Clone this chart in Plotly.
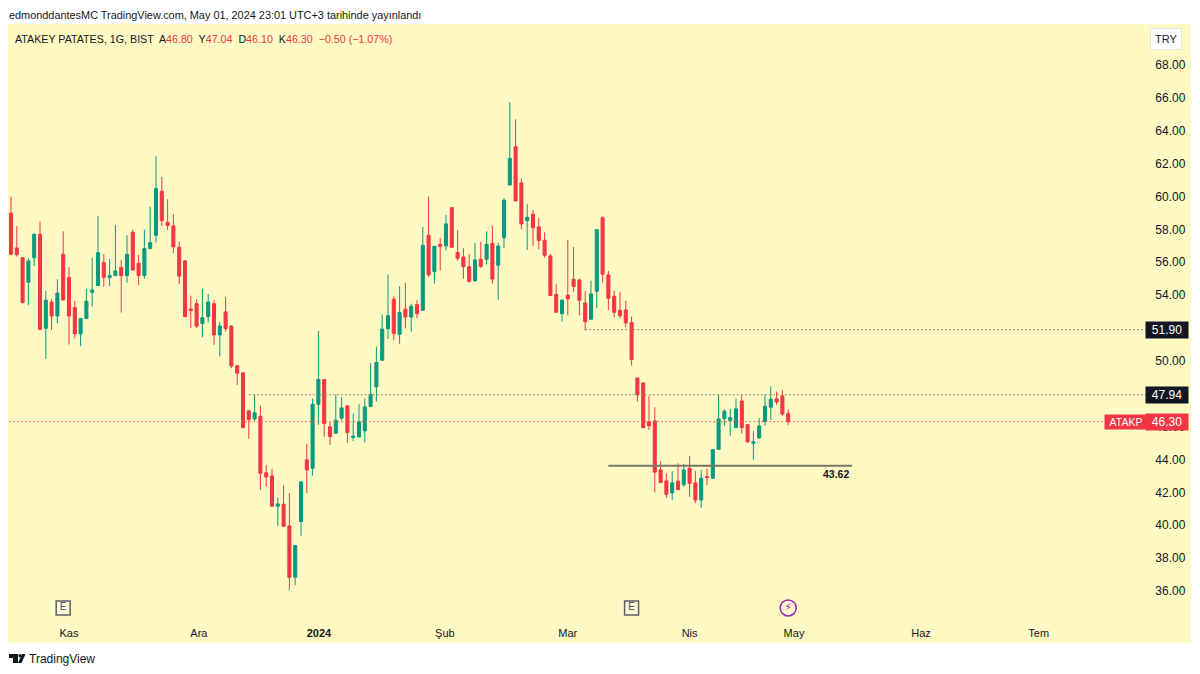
import plotly.graph_objects as go

# ATAKP gunluk mumlar
opens = [58.98, 56.87, 56.28, 54.78, 56.28, 57.70, 51.98, 53.58, 52.73, 56.48, 55.08, 53.24, 51.64, 52.57, 54.17,
         54.58, 55.98, 55.06, 55.19, 55.69, 55.19, 57.82, 55.94, 55.19, 56.83, 57.64, 60.32, 58.43, 58.21, 56.91,
         56.08, 53.16, 53.48, 52.27, 52.69, 53.48, 51.58, 52.98, 52.12, 49.70, 49.27, 46.96, 46.47, 46.63, 43.19,
         43.00, 41.16, 41.28, 39.96, 36.84, 40.23, 43.98, 43.47, 47.36, 48.86, 45.99, 45.60, 46.51, 47.26, 45.34,
         45.38, 45.74, 47.22, 48.42, 50.04, 51.96, 53.75, 51.62, 53.14, 52.67, 53.42, 53.08, 57.64, 55.43, 57.09,
         56.99, 59.32, 56.59, 56.32, 55.73, 54.86, 56.18, 56.18, 57.15, 55.81, 57.48, 60.70, 63.03, 60.82, 58.53,
         58.92, 58.15, 57.34, 56.38, 54.03, 52.87, 54.00, 54.96, 54.92, 53.52, 52.53, 54.23, 58.71, 55.23, 53.93,
         53.08, 53.10, 52.33, 48.96, 48.66, 46.29, 46.35, 43.37, 42.70, 41.97, 42.68, 42.46, 43.47, 42.58, 41.54,
         42.96, 42.86, 44.62, 46.49, 46.37, 45.94, 47.56, 46.13, 44.99, 45.31, 46.31, 47.18, 47.69, 47.87, 46.80]
highs = [59.99, 58.21, 56.28, 56.24, 57.76, 58.49, 54.27, 53.75, 54.96, 57.88, 55.69, 53.65, 52.63, 54.38, 56.26,
         58.82, 56.48, 56.20, 58.27, 56.14, 57.64, 57.98, 56.44, 57.98, 59.38, 62.45, 61.19, 59.83, 58.92, 57.25,
         56.14, 53.97, 53.75, 54.38, 54.07, 53.69, 52.37, 53.87, 52.17, 49.73, 49.30, 47.00, 47.95, 47.28, 43.67,
         43.45, 41.69, 42.44, 41.95, 38.78, 42.66, 44.95, 47.71, 51.82, 48.88, 46.27, 47.95, 47.79, 47.32, 46.80,
         47.36, 47.71, 49.86, 50.87, 52.82, 55.25, 53.93, 54.54, 54.74, 53.48, 53.69, 58.15, 59.99, 56.99, 57.48,
         58.88, 59.32, 57.94, 56.85, 56.50, 57.19, 57.25, 57.88, 58.21, 57.19, 59.89, 65.73, 64.70, 61.09, 59.53,
         59.18, 58.69, 57.82, 56.50, 54.66, 53.75, 57.34, 56.93, 55.00, 54.25, 54.88, 57.98, 58.78, 55.47, 54.27,
         54.19, 53.65, 52.69, 48.96, 48.66, 47.87, 47.18, 43.91, 43.16, 43.29, 43.77, 43.73, 44.22, 43.29, 43.37,
         43.45, 44.60, 47.95, 47.06, 47.06, 47.69, 47.93, 46.13, 45.74, 46.51, 47.95, 48.46, 48.13, 48.23, 47.04]
lows = [56.44, 56.34, 53.50, 53.40, 55.77, 51.90, 50.12, 51.88, 52.29, 53.67, 50.99, 51.37, 50.89, 52.55, 53.30,
        54.56, 54.50, 54.54, 55.15, 52.94, 54.76, 55.50, 54.60, 55.00, 56.80, 57.19, 58.21, 57.96, 56.54, 54.66,
        52.65, 52.00, 52.00, 51.44, 52.33, 50.97, 50.26, 51.78, 49.55, 48.54, 45.90, 45.26, 46.35, 42.15, 42.36,
        41.12, 39.96, 39.90, 36.07, 36.35, 39.37, 41.95, 43.02, 46.11, 45.38, 44.89, 45.58, 46.37, 45.01, 45.11,
        45.36, 45.03, 47.20, 47.53, 50.00, 51.33, 51.25, 51.03, 51.98, 51.78, 52.59, 53.05, 55.11, 54.70, 55.49,
        56.71, 56.88, 56.08, 55.00, 54.76, 54.84, 55.65, 55.86, 54.70, 53.71, 56.85, 60.68, 59.70, 58.00, 56.75,
        56.99, 56.79, 56.28, 53.95, 52.93, 52.39, 52.77, 54.21, 52.77, 51.84, 52.50, 53.20, 54.76, 53.10, 52.65,
        52.59, 52.04, 49.71, 47.52, 45.90, 45.80, 41.99, 42.56, 41.68, 41.54, 42.15, 42.35, 41.73, 41.34, 41.06,
        42.43, 42.83, 44.60, 46.04, 45.42, 45.90, 45.58, 45.03, 43.99, 45.25, 46.06, 46.41, 47.32, 46.65, 46.10]
closes = [56.48, 56.46, 53.54, 56.08, 57.70, 51.92, 53.69, 52.73, 54.13, 53.71, 52.73, 51.64, 52.57, 53.63, 54.31,
          56.58, 55.08, 55.19, 55.47, 55.19, 56.48, 55.53, 55.19, 56.83, 57.19, 60.48, 58.53, 58.23, 56.93, 55.15,
          52.69, 53.06, 52.12, 52.63, 53.58, 51.58, 52.12, 51.96, 49.69, 49.25, 45.94, 46.43, 46.84, 43.17, 42.94,
          41.16, 41.30, 39.94, 36.84, 38.77, 42.64, 43.37, 47.36, 48.88, 46.19, 45.40, 46.39, 47.14, 45.64, 45.42,
          46.29, 47.20, 47.97, 49.90, 51.93, 52.75, 51.66, 52.94, 52.67, 53.32, 52.87, 57.03, 55.23, 56.97, 56.97,
          58.33, 56.91, 56.24, 55.73, 54.84, 56.14, 55.75, 57.09, 54.98, 56.99, 59.77, 62.32, 59.73, 58.33, 58.73,
          58.09, 57.32, 56.42, 53.97, 52.96, 53.69, 53.77, 54.52, 53.69, 52.39, 54.07, 57.98, 55.27, 53.81, 52.96,
          52.75, 52.31, 50.08, 47.93, 45.94, 46.06, 43.23, 42.60, 41.89, 42.58, 42.17, 43.37, 42.54, 41.54, 42.86,
          42.90, 44.60, 46.47, 46.94, 46.55, 47.08, 45.94, 45.07, 45.07, 46.04, 47.24, 47.67, 47.50, 46.77, 46.30]
candle_idx = list(range(len(closes)))

# 48 ve 52 etiketleri fiyat kutularinin altinda kaliyor
price_ticks = [36, 38, 40, 42, 44, 46, 50, 54, 56, 58, 60, 62, 64, 66, 68]
month_idx = [10, 32.4, 53.1, 74.8, 96, 117, 135, 156.9, 177.2]
month_labels = ['Kas', 'Ara', '<b>2024</b>', 'Şub', 'Mar', 'Nis', 'May', 'Haz', 'Tem']

earn_idx = [9, 107]
earn_price = [34.97, 34.97]
div_idx = [134]
div_price = [34.97]

level_hi = 51.90
level_mid = 47.94
level_last = 46.30
level_low = 43.62

RED = '#F23645'
GREEN = '#089981'
BG = '#FFF9C4'
INK = '#131722'
FONT = 'Liberation Sans, Arial, sans-serif'

# piksel -> paper, panel 8..1191 / 24..643
def px(x):
    return (x - 8) / 1183

def py(y):
    return (643 - y) / 619

fig = go.Figure()

# seviye cizgileri mumlarin altinda kalsin
fig.add_trace(go.Scatter(x=[99, 196], y=[level_hi, level_hi], mode='lines',
                         line=dict(color='#8a8a72', width=1, dash='2px,2px')))
fig.add_trace(go.Scatter(x=[41, 196], y=[level_mid, level_mid], mode='lines',
                         line=dict(color='#8a8a72', width=1, dash='2px,2px')))
fig.add_trace(go.Scatter(x=[-1, 189], y=[level_last, level_last], mode='lines',
                         line=dict(color='#F4636F', width=1, dash='2px,2px')))
fig.add_trace(go.Scatter(x=[103, 145], y=[level_low, level_low], mode='lines',
                         line=dict(color='#77776a', width=2)))

fig.add_trace(go.Candlestick(x=candle_idx, open=opens, high=highs, low=lows, close=closes,
                             increasing=dict(line=dict(color=GREEN, width=1), fillcolor=GREEN),
                             decreasing=dict(line=dict(color=RED, width=1), fillcolor=RED),
                             whiskerwidth=0))

fig.add_trace(go.Scatter(x=earn_idx, y=earn_price, mode='markers+text', text=['E', 'E'],
                         textposition='middle center', textfont=dict(size=10, color='#4a4f63', family=FONT),
                         marker=dict(symbol='square', size=14, color='rgba(255,255,255,0.25)',
                                     line=dict(color='#5d606b', width=1.5))))
fig.add_trace(go.Scatter(x=div_idx, y=div_price, mode='markers+text', text=['⚡'],
                         textposition='middle center',
                         textfont=dict(size=11, color='#9C27B0', family='DejaVu Sans'),
                         marker=dict(symbol='circle', size=16, color='rgba(255,255,255,0.25)',
                                     line=dict(color='#9C27B0', width=1.5))))

header = ('ATAKEY PATATES, 1G, BIST  A<span style="color:{0}">46.80</span>  Y<span style="color:{0}">47.04</span>'
          '  D<span style="color:{0}">46.10</span>  K<span style="color:{0}">46.30</span>'
          '  <span style="color:{0}">−0.50 (−1.07%)</span>').format(RED)

annots = [
    dict(x=px(7), y=py(15), text='edmonddantesMC TradingView.com, May 01, 2024 23:01 UTC+3 tarihinde yayınlandı',
         xanchor='left', font=dict(size=10.9, color=INK)),
    dict(x=px(13), y=py(39), text=header, xanchor='left', font=dict(size=10.7, color=INK)),
    dict(x=px(1166), y=py(39), text='TRY', font=dict(size=11, color=INK), bgcolor='white',
         bordercolor='#e6e6e0', borderwidth=1, borderpad=4),
    dict(x=px(1166.5), y=py(330), text=f'{level_hi:.2f}', font=dict(size=12, color='white'), bgcolor=INK,
         borderpad=1, width=40),
    dict(x=px(1166.5), y=py(395), text=f'{level_mid:.2f}', font=dict(size=12, color='white'), bgcolor=INK,
         borderpad=1, width=40),
    dict(x=px(1125.5), y=py(422), text='ATAKP', font=dict(size=10.5, color='white'), bgcolor=RED,
         borderpad=1, width=40),
    dict(x=px(1166.5), y=py(422), text=f'{level_last:.2f}', font=dict(size=12, color='white'), bgcolor=RED,
         borderpad=1, width=40),
    dict(x=px(836), y=py(474), text=f'<b>{level_low:.2f}</b>', font=dict(size=10.5, color=INK)),
    dict(x=px(27), y=py(659), text='TradingView', xanchor='left', font=dict(size=12, color=INK)),
]
for a in annots:
    a.setdefault('xanchor', 'center')
    a.update(xref='paper', yref='paper', showarrow=False, yanchor='middle')

# TradingView logosu
logo = [
    dict(type='path', path=f'M {px(9)} {py(654)} L {px(18)} {py(654)} L {px(18)} {py(663)} L {px(13)} {py(663)} '
                           f'L {px(13)} {py(658)} L {px(9)} {py(658)} Z'),
    dict(type='circle', x0=px(18.5), x1=px(21.5), y0=py(657.5), y1=py(654)),
    dict(type='path', path=f'M {px(22)} {py(654)} L {px(25.5)} {py(654)} L {px(21.5)} {py(663)} L {px(18)} {py(663)} Z'),
]
for s in logo:
    s.update(xref='paper', yref='paper', fillcolor=INK, line=dict(width=0))

fig.update_layout(
    width=1200, height=674, showlegend=False, paper_bgcolor='white', plot_bgcolor=BG,
    margin=dict(l=8, r=9, t=24, b=31), boxgap=0.25,
    font=dict(family=FONT, color=INK, size=12),
    annotations=annots, shapes=logo,
    xaxis=dict(range=[-0.517, 203.45], tickvals=month_idx, ticktext=month_labels, showgrid=False, zeroline=False,
               rangeslider=dict(visible=False), ticklabelposition='inside', ticks='inside', ticklen=3,
               tickcolor='rgba(0,0,0,0)', tickfont=dict(size=11, color=INK)),
    yaxis=dict(range=[32.84, 70.49], side='right', tickvals=price_ticks, tickformat='.2f', showgrid=False,
               zeroline=False, ticklabelposition='inside', ticks='inside', ticklen=5,
               tickcolor='rgba(0,0,0,0)', tickfont=dict(size=12, color=INK)),
)

# sayfanin varsayilan 8px kenar boslugunu kaldir
fig.write_html("out.html", post_script="document.body.style.margin='0';",
               config=dict(displayModeBar=False))
